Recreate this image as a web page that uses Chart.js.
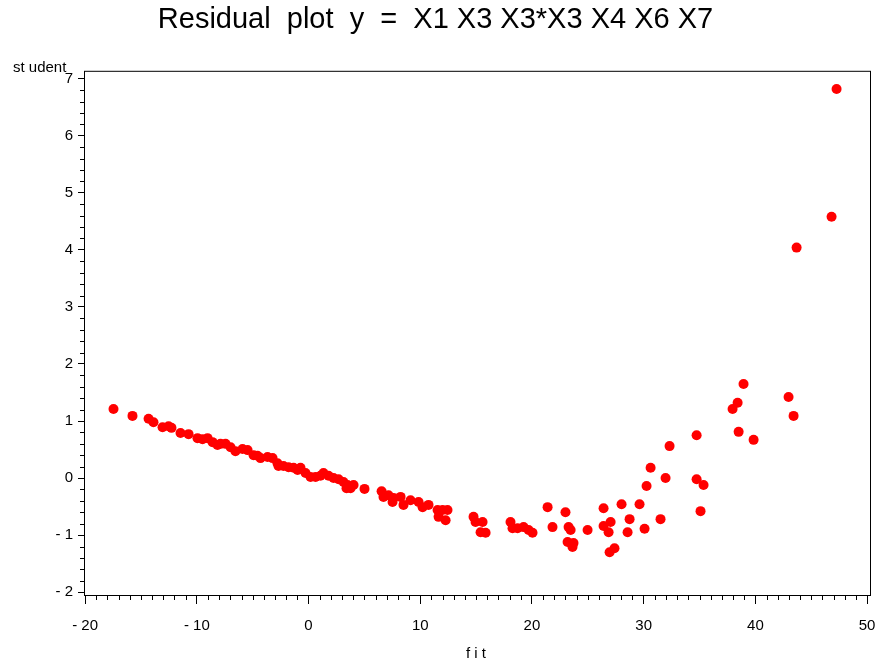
<!DOCTYPE html>
<html>
<head>
<meta charset="utf-8">
<script src="https://cdn.jsdelivr.net/npm/chart.js@4/dist/chart.umd.min.js"></script>
<style>
  body { margin: 0; background: #fff; }
  #wrap { width: 880px; height: 665px; }
</style>
</head>
<body>
<div id="wrap"><canvas id="residuals" width="880" height="665"></canvas></div>
<script>
// fitted values (x) and studentized residuals (y)
const fitValues = [
  -17.46, -15.76, -14.32, -13.88, -13.07, -12.53, -12.27, -11.46, -10.74, -9.94,
  -9.49, -9.04, -8.59, -8.15, -7.88, -7.43, -6.98, -6.54, -5.91, -5.46,
  -4.92, -4.57, -4.30, -3.67, -3.22, -2.78, -2.69, -2.24, -1.79, -1.34,
  -0.98, -0.72, -0.27, 0.18, 0.63, 1.07, 1.34, 1.79, 2.24, 2.69,
  3.13, 3.40, 3.49, 3.76, 4.03, 5.01,
  6.54, 6.71, 7.16, 7.52, 7.61, 8.24, 8.50, 9.13, 9.85, 10.21,
  10.74, 11.55, 12.00, 12.44, 11.64, 12.27, 14.77, 14.95, 15.58, 15.40,
  15.85, 18.08, 18.26, 18.71, 19.25, 19.70,
  21.40, 23.00, 20.05, 21.84, 23.28, 23.46, 23.19, 23.72, 23.63, 24.98,
  26.41, 26.41, 26.86, 27.04, 26.95, 27.39, 28.02, 28.74, 28.56, 29.63,
  30.08, 30.26, 30.62, 31.51, 31.96, 32.32, 34.74, 34.74, 35.36, 35.09,
  37.96, 38.41, 38.94, 38.50, 39.84, 42.97, 43.42, 43.69, 46.82, 47.27
];
const studentValues = [
  1.21, 1.09, 1.04, 0.98, 0.89, 0.91, 0.88, 0.79, 0.77, 0.70,
  0.68, 0.70, 0.63, 0.58, 0.60, 0.60, 0.54, 0.47, 0.51, 0.49,
  0.40, 0.39, 0.35, 0.37, 0.35, 0.26, 0.21, 0.21, 0.19, 0.18,
  0.14, 0.18, 0.09, 0.02, 0.02, 0.04, 0.09, 0.04, 0.00, -0.02,
  -0.07, -0.18, -0.12, -0.18, -0.12, -0.19,
  -0.23, -0.33, -0.30, -0.42, -0.35, -0.33, -0.47, -0.39, -0.42, -0.51,
  -0.47, -0.56, -0.56, -0.56, -0.68, -0.74, -0.68, -0.77, -0.77, -0.95,
  -0.96, -0.77, -0.88, -0.88, -0.86, -0.91,
  -0.51, -0.60, -0.96, -0.86, -0.86, -0.91, -1.12, -1.14, -1.21, -0.91,
  -0.53, -0.84, -0.95, -0.77, -1.30, -1.23, -0.46, -0.72, -0.95, -0.46,
  -0.89, -0.14, 0.18, -0.72, 0.00, 0.56, 0.75, -0.02, -0.12, -0.58,
  1.21, 1.32, 1.65, 0.81, 0.67, 1.42, 1.09, 4.04, 4.58, 6.82
];

const xTickValues = [-20, -10, 0, 10, 20, 30, 40, 50];
const yTickValues = [-2, -1, 0, 1, 2, 3, 4, 5, 6, 7];

const titleText = 'Residual  plot  y  =  X1 X3 X3*X3 X4 X6 X7';
const xTitle = 'f i t';
const yTitle = 'st udent';

const fontFamily = 'Arial, "Liberation Sans", Helvetica, sans-serif';

function tickLabel(v) {
  return v < 0 ? '- ' + Math.abs(v) : String(v);
}

// frame, minor ticks and the two axis titles
const framePlugin = {
  id: 'framePlugin',
  afterDraw(chart) {
    const { ctx, chartArea: { left, top, right, bottom } } = chart;
    const xs = chart.scales.x;
    const ys = chart.scales.y;
    ctx.save();
    ctx.strokeStyle = '#000';
    ctx.lineWidth = 1;
    ctx.strokeRect(left + 0.5, top + 0.5, right - left - 1, bottom - top);

    ctx.beginPath();
    for (let v = -20; v <= 50; v++) {
      if (v % 10 === 0) continue;
      const px = Math.round(xs.getPixelForValue(v)) + 0.5;
      ctx.moveTo(px, bottom);
      ctx.lineTo(px, bottom + 5);
    }
    for (let i = -10; i <= 35; i++) {
      if (i % 5 === 0) continue;
      const py = Math.round(ys.getPixelForValue(i / 5)) + 0.5;
      ctx.moveTo(left, py);
      ctx.lineTo(left - 4, py);
    }
    ctx.stroke();

    ctx.fillStyle = '#000';
    ctx.font = '15px ' + fontFamily;
    ctx.textBaseline = 'middle';
    ctx.textAlign = 'left';
    ctx.fillText(yTitle, 13, 68);
    ctx.textAlign = 'center';
    ctx.fillText(xTitle, 476, 654);
    ctx.restore();
  },
};

const config = {
  type: 'scatter',
  data: {
    datasets: [
      {
        data: fitValues.map((x, i) => ({ x: x, y: studentValues[i] })),
        backgroundColor: '#ff0000',
        borderColor: '#ff0000',
        borderWidth: 0,
        pointRadius: 5,
      },
    ],
  },
  options: {
    responsive: false,
    animation: false,
    layout: {
      padding: { left: 0, right: 9, top: 0, bottom: 0 },
    },
    plugins: {
      legend: { display: false },
      tooltip: { enabled: false },
      title: {
        display: true,
        text: titleText,
        color: '#000',
        font: { family: fontFamily, size: 29, weight: 'normal' },
        padding: { top: 3, bottom: 33 },
      },
    },
    scales: {
      x: {
        type: 'linear',
        min: -20.1,
        max: 50.35,
        afterBuildTicks: (scale) => {
          scale.ticks = xTickValues.map((v) => ({ value: v }));
        },
        afterFit: (scale) => {
          scale.height = 70;
          scale.paddingLeft = 0;
          scale.paddingRight = 0;
        },
        border: { display: false },
        grid: {
          drawOnChartArea: false,
          drawTicks: true,
          tickLength: 9,
          color: '#000',
        },
        ticks: {
          color: '#000',
          padding: 13,
          maxRotation: 0,
          font: { family: fontFamily, size: 15 },
          callback: (v) => tickLabel(v),
        },
      },
      y: {
        type: 'linear',
        min: -2.05,
        max: 7.14,
        afterBuildTicks: (scale) => {
          scale.ticks = yTickValues.map((v) => ({ value: v }));
        },
        afterFit: (scale) => {
          scale.width = 84;
          scale.paddingTop = 0;
          scale.paddingBottom = 0;
        },
        border: { display: false },
        grid: {
          drawOnChartArea: false,
          drawTicks: true,
          tickLength: 6,
          color: '#000',
        },
        ticks: {
          color: '#000',
          padding: 5,
          font: { family: fontFamily, size: 15 },
          callback: (v) => tickLabel(v),
        },
      },
    },
  },
  plugins: [framePlugin],
};

new Chart(document.getElementById('residuals').getContext('2d'), config);
</script>
</body>
</html>
